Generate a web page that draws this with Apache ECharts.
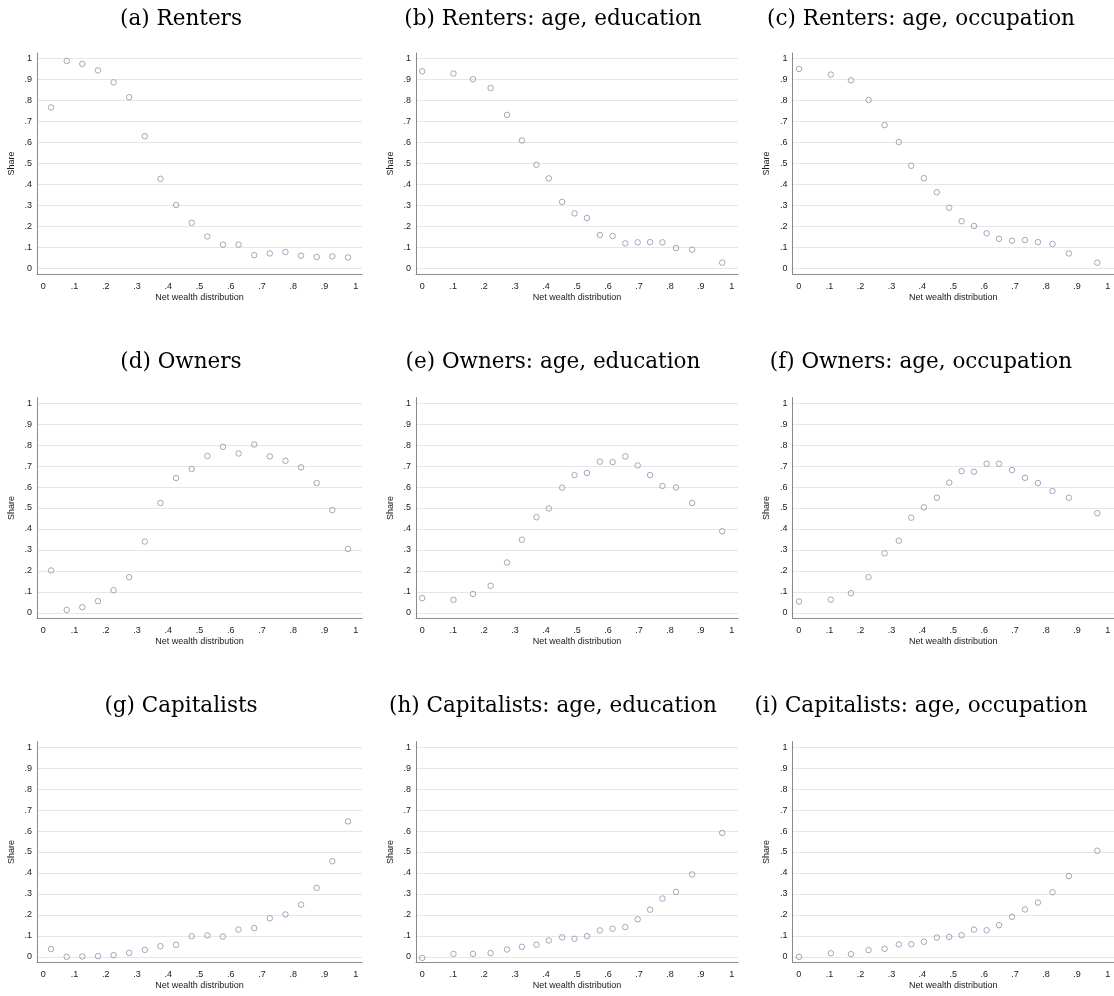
<!DOCTYPE html>
<html>
<head>
<meta charset="utf-8">
<title>Tenure status across the net wealth distribution</title>
<script src="https://cdn.jsdelivr.net/npm/echarts@6/dist/echarts.min.js"></script>
<style>
  html, body { margin: 0; padding: 0; background: #ffffff; }
  #chart { width: 1114px; height: 996px; }
</style>
</head>
<body>
<div id="chart"></div>
<script>
// Position in the net wealth distribution (x) for each group of cells
const xVentiles = [0.025, 0.075, 0.125, 0.175, 0.225, 0.275, 0.325, 0.375, 0.425, 0.475,
                   0.525, 0.575, 0.625, 0.675, 0.725, 0.775, 0.825, 0.875, 0.925, 0.975];
const xAgeEducation = [0.000, 0.101, 0.164, 0.221, 0.274, 0.322, 0.369, 0.409, 0.452, 0.492,
                       0.532, 0.574, 0.615, 0.656, 0.696, 0.736, 0.776, 0.820, 0.872, 0.969];
const xAgeOccupation = [0.001, 0.104, 0.169, 0.226, 0.278, 0.324, 0.364, 0.405, 0.447, 0.487,
                        0.527, 0.567, 0.608, 0.648, 0.690, 0.732, 0.774, 0.821, 0.874, 0.966];

// Shares of each tenure status
const rentersShare = [0.767, 0.989, 0.975, 0.944, 0.887, 0.816, 0.630, 0.427, 0.302, 0.217,
                      0.152, 0.113, 0.113, 0.063, 0.071, 0.078, 0.060, 0.054, 0.057, 0.052];
const rentersAgeEducation = [0.940, 0.929, 0.902, 0.860, 0.732, 0.610, 0.494, 0.429, 0.317, 0.262,
                             0.240, 0.159, 0.154, 0.119, 0.124, 0.125, 0.124, 0.097, 0.089, 0.027];
const rentersAgeOccupation = [0.951, 0.924, 0.897, 0.803, 0.683, 0.602, 0.489, 0.430, 0.363, 0.289,
                              0.225, 0.202, 0.167, 0.141, 0.132, 0.135, 0.125, 0.116, 0.071, 0.027];
const ownersShare = [0.202, 0.014, 0.027, 0.056, 0.108, 0.170, 0.340, 0.524, 0.643, 0.686,
                     0.748, 0.792, 0.760, 0.803, 0.746, 0.725, 0.694, 0.619, 0.490, 0.305];
const ownersAgeEducation = [0.070, 0.062, 0.090, 0.129, 0.240, 0.349, 0.456, 0.498, 0.597, 0.657,
                            0.667, 0.721, 0.719, 0.746, 0.703, 0.657, 0.605, 0.598, 0.524, 0.389];
const ownersAgeOccupation = [0.054, 0.063, 0.094, 0.170, 0.284, 0.344, 0.454, 0.503, 0.549, 0.621,
                             0.676, 0.673, 0.711, 0.711, 0.681, 0.644, 0.619, 0.581, 0.549, 0.475];
const capitalistsShare = [0.037, 0.000, 0.002, 0.003, 0.008, 0.019, 0.033, 0.051, 0.057, 0.098,
                          0.102, 0.097, 0.130, 0.137, 0.184, 0.202, 0.249, 0.329, 0.456, 0.646];
const capitalistsAgeEducation = [-0.005, 0.014, 0.014, 0.018, 0.035, 0.048, 0.058, 0.078, 0.093, 0.086,
                                 0.099, 0.126, 0.134, 0.142, 0.179, 0.225, 0.278, 0.310, 0.393, 0.591];
const capitalistsAgeOccupation = [0.000, 0.017, 0.013, 0.032, 0.038, 0.059, 0.060, 0.072, 0.092, 0.095,
                                  0.103, 0.130, 0.127, 0.151, 0.191, 0.226, 0.259, 0.308, 0.385, 0.506];

// Axis ticks and their labels (shared by both axes of every panel)
const tickValues = [0, 0.1, 0.2, 0.3, 0.4, 0.5, 0.6, 0.7, 0.8, 0.9, 1];
const tickLabels = ['0', '.1', '.2', '.3', '.4', '.5', '.6', '.7', '.8', '.9', '1'];

const panelTitles = [
  '(a) Renters', '(b) Renters: age, education', '(c) Renters: age, occupation',
  '(d) Owners', '(e) Owners: age, education', '(f) Owners: age, occupation',
  '(g) Capitalists', '(h) Capitalists: age, education', '(i) Capitalists: age, occupation'
];
const panelX = [xVentiles, xAgeEducation, xAgeOccupation];
const panelY = [
  rentersShare, rentersAgeEducation, rentersAgeOccupation,
  ownersShare, ownersAgeEducation, ownersAgeOccupation,
  capitalistsShare, capitalistsAgeEducation, capitalistsAgeOccupation
];

// Layout of the 3 x 3 panels
const colLeft = [37, 416, 792.5];
const colWidth = [325, 322, 323];
const colTitleCenter = [181, 553, 921];
const rowTop = [53, 397.5, 741.5];
const rowHeight = 221;
const rowTitleTop = [8, 351, 695];

const X_PAD = 0.02, Y_PAD = 0.027;
const markerColor = '#8396b0';
const labelFont = { color: '#1a1a1a', fontSize: 9, fontFamily: 'Liberation Sans, Arial, sans-serif' };

function tickLabel(v) {
  const i = tickValues.findIndex(t => Math.abs(t - v) < 1e-9);
  return i >= 0 ? tickLabels[i] : '';
}

const grids = [], xAxes = [], yAxes = [], series = [], titles = [];
for (let p = 0; p < 9; p++) {
  const r = Math.floor(p / 3), c = p % 3;
  grids.push({ left: colLeft[c], top: rowTop[r], width: colWidth[c], height: rowHeight, containLabel: false });
  titles.push({
    text: panelTitles[p], left: colTitleCenter[c], top: rowTitleTop[r], textAlign: 'center', padding: 0,
    textStyle: { fontFamily: 'DejaVu Serif, serif', fontWeight: 'normal', fontSize: 21.5, color: '#000' }
  });
  xAxes.push({
    type: 'value', gridIndex: p, min: -X_PAD, max: 1 + X_PAD,
    name: 'Net wealth distribution', nameLocation: 'middle', nameGap: 19,
    nameTextStyle: labelFont,
    axisLine: { show: true, onZero: false, lineStyle: { color: '#8a8a8a', width: 1 } },
    axisTick: { show: false, customValues: tickValues },
    axisLabel: { customValues: tickValues, formatter: tickLabel, margin: 8, ...labelFont },
    splitLine: { show: false }
  });
  yAxes.push({
    type: 'value', gridIndex: p, min: -Y_PAD, max: 1 + Y_PAD,
    name: 'Share', nameLocation: 'middle', nameGap: 21, nameRotate: 90,
    nameTextStyle: labelFont,
    axisLine: { show: true, onZero: false, lineStyle: { color: '#8a8a8a', width: 1 } },
    axisTick: { show: false, customValues: tickValues },
    axisLabel: { customValues: tickValues, formatter: tickLabel, margin: 5, ...labelFont },
    splitLine: { show: true, lineStyle: { color: '#e6e6e6', width: 1 } }
  });
  const xs = panelX[c], ys = panelY[p];
  series.push({
    type: 'scatter', xAxisIndex: p, yAxisIndex: p,
    data: xs.map((x, i) => [x, ys[i]]),
    symbol: 'circle', symbolSize: 5.5,
    itemStyle: { color: 'rgba(255,255,255,0)', borderColor: markerColor, borderWidth: 1 },
    emphasis: { disabled: true }
  });
}

const chart = echarts.init(document.getElementById('chart'), null, { renderer: 'canvas' });
chart.setOption({
  backgroundColor: '#ffffff',
  animation: false,
  title: titles,
  grid: grids,
  xAxis: xAxes,
  yAxis: yAxes,
  series: series
});
</script>
</body>
</html>
